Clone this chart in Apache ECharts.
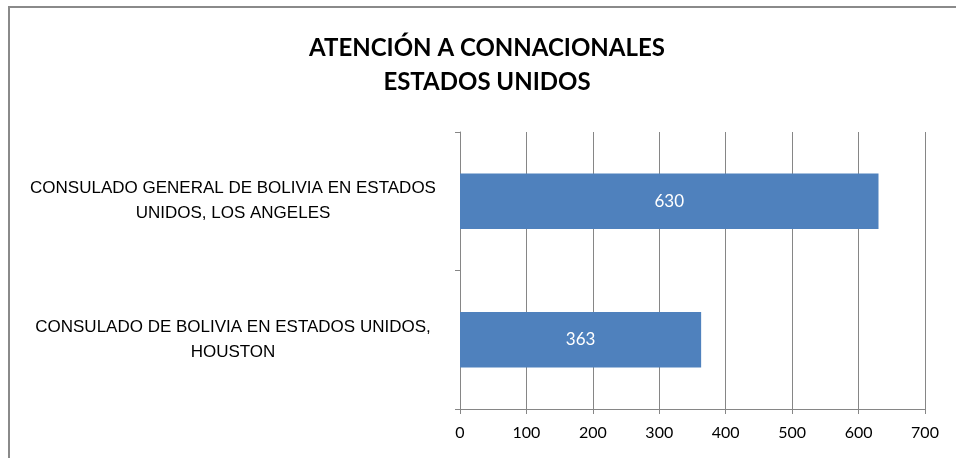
<!DOCTYPE html>
<html><head><meta charset="utf-8">
<script src="https://cdn.jsdelivr.net/npm/echarts@6/dist/echarts.min.js"></script>
<style>html,body{margin:0;padding:0;background:#fff}#c{width:956px;height:458px}</style>
</head><body><div id="c"></div>
<script>
const titleLines = ['ATENCIÓN A CONNACIONALES', 'ESTADOS UNIDOS'];
const categories = ['CONSULADO GENERAL DE BOLIVIA EN ESTADOS\nUNIDOS, LOS ANGELES', 'CONSULADO DE BOLIVIA EN ESTADOS UNIDOS,\nHOUSTON'];
const values = [630, 363];
const axisMin = 0, axisMax = 700, axisStep = 100;

const chart = echarts.init(document.getElementById('c'));
const F = 'Lato, "Open Sans", sans-serif';
const FC = '"Liberation Sans", Arial, sans-serif';
chart.setOption({
  animation: false,
  title: {
    text: titleLines.join('\n'), left: 482, top: 26, textAlign: 'center',
    textStyle: {fontFamily: F, fontWeight: 'bold', fontSize: 24, color: '#000', lineHeight: 34}
  },
  graphic: [{type: 'rect', shape: {x: 9, y: 7, width: 1000, height: 500}, style: {fill: 'none', stroke: '#8a8a8a', lineWidth: 2}, silent: true}],
  grid: {left: 460, right: 31, top: 132, bottom: 49},
  xAxis: {
    type: 'value', min: axisMin, max: axisMax, interval: axisStep,
    axisLine: {show: true, lineStyle: {color: '#868686', width: 1}},
    axisTick: {show: true, length: 5, lineStyle: {color: '#868686'}},
    splitLine: {show: true, lineStyle: {color: '#868686', width: 1}},
    axisLabel: {fontFamily: F, fontSize: 16, color: '#000', margin: 16}
  },
  yAxis: {
    type: 'category', data: categories, inverse: true,
    axisLine: {show: true, lineStyle: {color: '#868686'}},
    axisTick: {show: true, length: 5, lineStyle: {color: '#868686'}},
    axisLabel: {fontFamily: FC, fontSize: 17, color: '#000', align: 'center', margin: 227, lineHeight: 25}
  },
  series: [{
    type: 'bar', data: values, barCategoryGap: '60%',
    itemStyle: {color: '#4F81BD'},
    label: {show: true, position: 'inside', color: '#fff', fontFamily: F, fontSize: 17}
  }]
});
</script></body></html>
